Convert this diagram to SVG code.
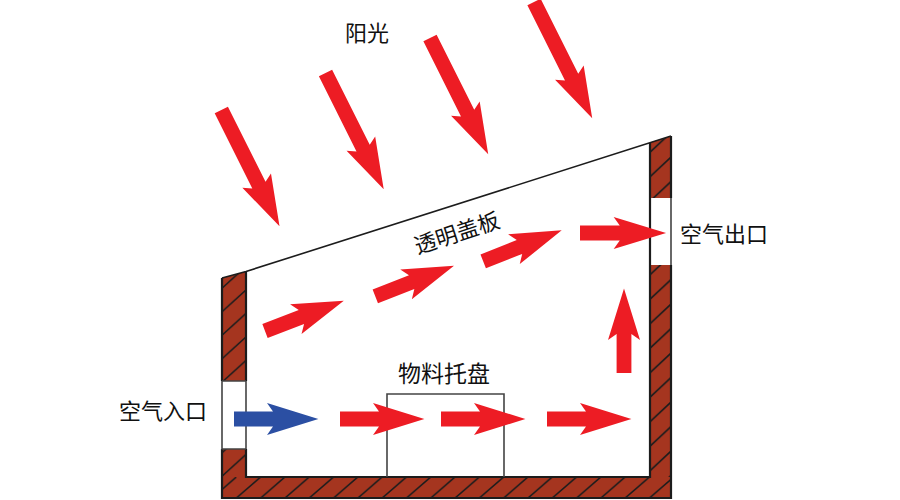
<svg xmlns="http://www.w3.org/2000/svg" width="900" height="500" viewBox="0 0 900 500">
<style>
.t{font-family:"Noto Sans CJK SC","Noto Sans",sans-serif;font-size:22px;fill:#111;text-anchor:middle}
.edge{fill:none;stroke:#1c1c1c;stroke-width:2.2}
.roof{fill:none;stroke:#1c1c1c;stroke-width:1.6}
.open{fill:none;stroke:#444;stroke-width:1.6}
.hl{stroke:#1c1c1c;stroke-width:1.6;fill:none}
.bg{fill:#a5351f}
.r{fill:#ed1c24}
.b{fill:#2b4fa3}
</style>
<defs>
<pattern id="hl" patternUnits="userSpaceOnUse" width="26" height="23.5" x="246" y="290">
<rect class="bg" width="26" height="23.5"/><path class="hl" d="M-1 24.4 L27 -0.9"/>
</pattern>
<pattern id="hr" patternUnits="userSpaceOnUse" width="26" height="24.5" x="645" y="157">
<rect class="bg" width="26" height="24.5"/><path class="hl" d="M-1 25.4 L27 -0.9"/>
</pattern>
<pattern id="hb" patternUnits="userSpaceOnUse" width="24.3" height="21" x="528" y="477">
<rect class="bg" width="24.3" height="21"/><path class="hl" d="M-1 21.9 L25.3 -0.9"/>
</pattern>
<polygon id="a" points="0,-7.4 39,-7.4 33,-16 84.4,0 33,16 39,7.4 0,7.4"/>
<polygon id="s" points="0,-7.4 84,-7.4 79,-16 130,0 79,16 84,7.4 0,7.4"/>
</defs>
<rect width="900" height="500" fill="#fff"/>
<g id="chamber">
<polygon fill="url(#hl)" points="222,278 246,271.5 246,477 222,477"/>
<polygon fill="url(#hr)" points="650,142.6 671,136 671,477 650,477"/>
<rect x="222" y="477" width="449" height="21" fill="url(#hb)"/>
<rect x="222" y="381" width="24" height="68" fill="#fff"/>
<rect x="650" y="198" width="21" height="67" fill="#fff"/>
<path class="roof" d="M222,278 L246,271.5 L671,136"/>
<path class="edge" d="M222,381 V278 M671,136 V198 M671,265 V498 H222 V449"/>
<path class="edge" d="M246,272 V381 M246,449 V477 H650 V143"/>
<path class="open" d="M222,381 V449 H246 M246,381 H222 M246,381 V449 M671,198 V265"/>
</g>
<g id="tray"><path class="open" d="M387,477 V394 H504 V477"/></g>
<g id="connectors">
<use href="#s" class="r" transform="translate(221.3,110) rotate(63.4)"/>
<use href="#s" class="r" transform="translate(325.5,73) rotate(63.4)"/>
<use href="#s" class="r" transform="translate(430,38) rotate(63.4)"/>
<use href="#s" class="r" transform="translate(534,2) rotate(63.4)"/>
<use href="#a" class="b" transform="translate(234,419)"/>
<use href="#a" class="r" transform="translate(340,419)"/>
<use href="#a" class="r" transform="translate(441,419)"/>
<use href="#a" class="r" transform="translate(547,419)"/>
<use href="#a" class="r" transform="translate(624,373) rotate(-90)"/>
<use href="#a" class="r" transform="translate(580,233) scale(1.02,1)"/>
<use href="#a" class="r" transform="translate(265,331) rotate(-21)"/>
<use href="#a" class="r" transform="translate(375.3,296.3) rotate(-21.2)"/>
<use href="#a" class="r" transform="translate(483.2,261.3) rotate(-21.5)"/>
</g>
<g id="label-sun"><text class="t" x="367" y="41">阳光</text></g>
<g id="label-cover"><text class="t" x="457" y="241" transform="rotate(-18 457 233)">透明盖板</text></g>
<g id="label-tray"><text class="t" x="444" y="382" style="font-size:23px">物料托盘</text></g>
<g id="label-in"><text class="t" x="163" y="419">空气入口</text></g>
<g id="label-out"><text class="t" x="724" y="242">空气出口</text></g>
</svg>
